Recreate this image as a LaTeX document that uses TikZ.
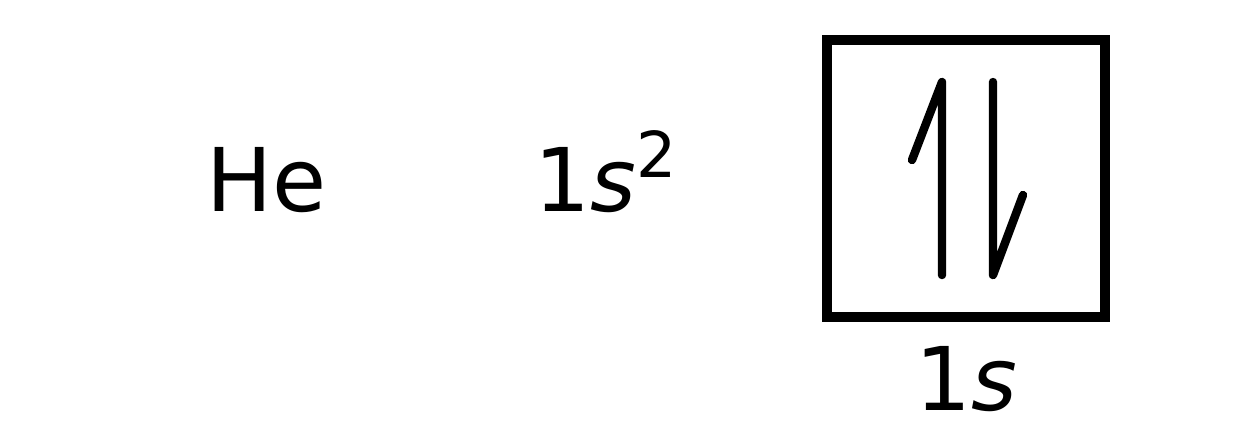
\documentclass[tikz,border=0pt]{standalone}
\usepackage{fontspec}
\setmainfont{DejaVu Sans}
\begin{document}
\begin{tikzpicture}[x=0.01cm,y=-0.01cm,
  txt/.style={inner sep=0pt,anchor=base west,font=\fontsize{25}{30}\selectfont},
  orbital/.style={draw,line width=2.8pt,minimum width=2.78cm,minimum height=2.77cm,inner sep=0pt},
  spin/.style={line width=2.4pt,line cap=round,line join=round}]
\useasboundingbox (0,0) rectangle (1250,438);
\node[txt] (elem) at (206,211) {He};
\node[txt] (conf) at (534,211) {1\textit{s}\raisebox{9.5pt}{\fontsize{18}{20}\selectfont 2}};
\node[orbital] (box) at (966,178.5) {};
\node[txt,anchor=base] (sub) at (box.south |- 0,410) {1\textit{s}};
\coordinate (uptop) at (942,82);
\coordinate (upbot) at (942,275);
\coordinate (dntop) at (993,82);
\coordinate (dnbot) at (993,275);
\draw[spin] (upbot) -- (uptop) -- (912,160);
\draw[spin] (dntop) -- (dnbot) -- (1023,195);
\end{tikzpicture}
\end{document}
